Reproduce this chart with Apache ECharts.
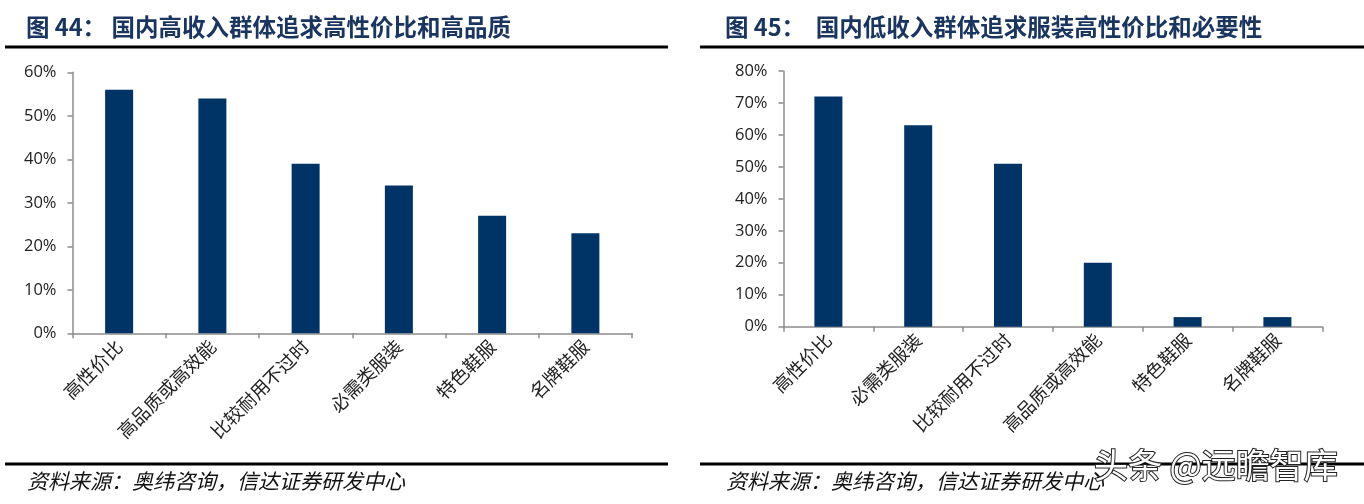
<!DOCTYPE html>
<html><head><meta charset="utf-8">
<script src="https://cdn.jsdelivr.net/npm/echarts@6/dist/echarts.min.js"></script>
<style>html,body{margin:0;padding:0;background:#fff;}#c{width:1364px;height:504px;}</style>
</head><body><div id="c"></div>
<script>
const leftTitle = '图 44： 国内高收入群体追求高性价比和高品质';
const rightTitle = '图 45：  国内低收入群体追求服装高性价比和必要性';
const sourceText = '资料来源：奥纬咨询，信达证券研发中心';
const watermark = '头条 @远瞻智库';
const leftCategories = ['高性价比','高品质或高效能','比较耐用不过时','必需类服装','特色鞋服','名牌鞋服'];
const leftValues = [56, 54, 39, 34, 27, 23];
const rightCategories = ['高性价比','必需类服装','比较耐用不过时','高品质或高效能','特色鞋服','名牌鞋服'];
const rightValues = [72, 63, 51, 20, 3, 3];
const leftTicks = {min: 0, max: 60, interval: 10};
const rightTicks = {min: 0, max: 80, interval: 10};

const chart = echarts.init(document.getElementById('c'), null, {renderer: 'canvas'});
const navy = '#003366';
const titleColor = '#1a3560';
const axisGray = '#8c8c8c';
const cjk = '"Noto Sans CJK SC", sans-serif';

function xAxis(gridIndex, cats) {
  return {
    type: 'category', gridIndex, data: cats, boundaryGap: true,
    axisLine: {lineStyle: {color: axisGray, width: 1.5}},
    axisTick: {show: true, length: 5, lineStyle: {color: axisGray, width: 1.5}},
    axisLabel: {interval: 0, rotate: 45, margin: 10, color: '#222', fontSize: 18.5, fontFamily: cjk}
  };
}
function yAxis(gridIndex, t) {
  return {
    type: 'value', gridIndex, min: t.min, max: t.max, interval: t.interval,
    axisLine: {show: true, lineStyle: {color: axisGray, width: 1.5}},
    axisTick: {show: true, length: 5, lineStyle: {color: axisGray, width: 1.5}},
    splitLine: {show: false},
    axisLabel: {formatter: v => v + '%', margin: 16, color: '#222', fontSize: 16.5, fontFamily: '"Open Sans", sans-serif'}
  };
}

chart.setOption({
  animation: false,
  title: [
    {text: leftTitle, left: 21, top: 10, textStyle: {fontSize: 23.5, fontWeight: 'bold', color: titleColor, fontFamily: cjk}},
    {text: rightTitle, left: 720, top: 10, textStyle: {fontSize: 23.5, fontWeight: 'bold', color: titleColor, fontFamily: cjk}},
    {text: sourceText, left: 22, top: 466, textStyle: {fontSize: 21, fontWeight: 'normal', fontStyle: 'italic', color: '#111', fontFamily: cjk}},
    {text: sourceText, left: 721, top: 466, textStyle: {fontSize: 21, fontWeight: 'normal', fontStyle: 'italic', color: '#111', fontFamily: cjk}}
  ],
  grid: [
    {left: 72.5, right: 1364 - 632, top: 72.3, bottom: 504 - 333.3},
    {left: 783.5, right: 1364 - 1322.3, top: 71, bottom: 504 - 326.7}
  ],
  xAxis: [xAxis(0, leftCategories), xAxis(1, rightCategories)],
  yAxis: [yAxis(0, leftTicks), yAxis(1, rightTicks)],
  series: [
    {type: 'bar', xAxisIndex: 0, yAxisIndex: 0, data: leftValues, barWidth: 28, itemStyle: {color: navy}},
    {type: 'bar', xAxisIndex: 1, yAxisIndex: 1, data: rightValues, barWidth: 28, itemStyle: {color: navy}}
  ],
  graphic: [
    {type: 'rect', shape: {x: 5, y: 45.5, width: 663, height: 3}, style: {fill: '#000'}},
    {type: 'rect', shape: {x: 700, y: 45.5, width: 664, height: 3}, style: {fill: '#000'}},
    {type: 'rect', shape: {x: 5, y: 462.5, width: 663, height: 3}, style: {fill: '#000'}},
    {type: 'rect', shape: {x: 700, y: 462.5, width: 664, height: 3}, style: {fill: '#000'}},
    {type: 'text', left: 1093, top: 447, z: 100, style: {text: watermark, fontSize: 34, fontFamily: cjk, fill: '#fff', stroke: '#222', lineWidth: 2}}
  ]
});
</script></body></html>
